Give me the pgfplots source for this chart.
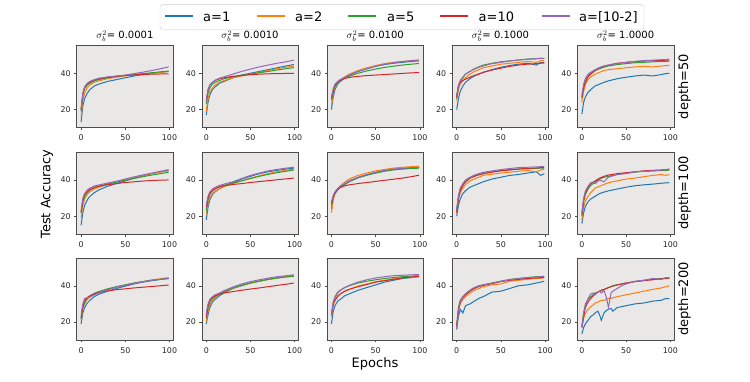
\documentclass[border=0pt]{standalone}
\usepackage{fontspec}
\setmainfont{DejaVu Sans}
\usepackage{pgfplots}
\usepackage{pgfplotstable}
\pgfplotsset{compat=1.18}

\definecolor{c1}{HTML}{1F77B4}
\definecolor{c2}{HTML}{FF7F0E}
\definecolor{c3}{HTML}{2CA02C}
\definecolor{c4}{HTML}{D62728}
\definecolor{c5}{HTML}{9467BD}
\definecolor{bgc}{RGB}{234,231,231}

% columns: epoch, a=1, a=2, a=5, a=10, a=[10-2]
\pgfplotstableread{
x a1 a2 a5 a10 a102
0 13 16 19 20 20
2 22 25 28 29 29
4 26 29 31.5 32 32.5
7 29 32 33.5 34 34.5
10 31 33.5 34.5 35 35.5
15 33 35 35.8 36.3 36.5
20 34 35.8 36.5 37 37.2
30 35.5 37 37.5 37.8 38
40 36.5 37.8 38.2 38.3 38.5
50 37.5 38.5 38.8 38.8 39
60 38.5 39 39.3 39.1 39.8
70 39.3 39.5 39.8 39.3 40.6
80 40 40 40.3 39.5 41.5
90 40.5 40.5 40.8 39.6 42.5
99 41 41 41.2 39.7 43.5
}\tA
\pgfplotstableread{
x a1 a2 a5 a10 a102
0 17 19 23 25 25
2 24 26 29 31 31
4 28 29.5 32 33.5 33.5
7 31 32 34 35 35
10 32.5 33.5 35 36 36.2
15 34.5 35 36 37 37.3
20 35.5 36 37 37.5 38
30 37.5 37.5 38 38.3 39.5
40 39 38.5 38.8 38.8 41
50 40 39.5 39.5 39.2 42.3
60 41 40.5 40.3 39.5 43.5
70 42 41.5 41 39.7 44.5
80 43 42.5 41.8 39.8 45.5
90 44 43.3 42.5 39.9 46.3
99 44.8 44 43.1 40 47.2
}\tB
\pgfplotstableread{
x a1 a2 a5 a10 a102
0 20 22 25 26 27
2 27 29 30 31 31.5
4 31 32 33 33.5 34
7 34 35 35 35.2 35.5
10 35.5 36.5 36 36.2 36.5
15 37.3 38 37.2 37.2 37.8
20 38.8 39.5 38.3 37.7 39
30 41 41.5 40 38.3 41
40 42.5 43 41.3 38.7 42.5
50 43.8 44.3 42.3 39 43.8
60 44.8 45.3 43.2 39.3 45
70 45.5 46 43.9 39.6 45.8
80 46 46.5 44.5 39.9 46.4
90 46.5 47 45 40.2 46.9
99 46.8 47.2 45.4 40.4 47.3
}\tC
\pgfplotstableread{
x a1 a2 a5 a10 a102
0 20 25 26 27 28
2 26 31 33 33 33.5
4 30 34 35.5 35 36
7 33 36 37.5 36 38
10 35 37.5 39.5 36.8 39.5
15 37 39.5 41 37.8 41
20 38.5 41 42.5 38.8 42.3
25 39.5 42 43.5 39.6 43.3
30 40.5 43 44.5 40.5 44
40 42 44 45.5 41.8 45.3
50 43.3 45 46.3 42.8 46
60 44.3 45.5 46.8 43.8 46.8
70 45 46 47.3 44.5 47.3
80 45.5 46.5 47.8 45 47.7
90 44.5 46 48 45.3 48
95 46 47 48.2 45.5 48.3
99 45.5 47 48 46 48.2
}\tD
\pgfplotstableread{
x a1 a2 a5 a10 a102
0 17.5 24 26 27 28
2 24 30 33 32 34
4 27 34 36.5 35 37
7 29.5 36.5 38.5 38 39.5
10 31 38 40 39.5 40.5
15 33 39.5 41.5 41.5 42
20 34 40.5 42.5 43 43.2
25 35 41.5 43.3 44 44
30 35.8 42 44 44.5 44.5
40 37 42.5 44.8 45.5 45.3
50 37.8 43 45.3 46 46
60 38.5 43.5 45.8 46.5 46.5
70 39 43.8 46 46.7 47
80 38.5 43.5 46.3 47 47.2
90 39.3 44 46.5 47 47.5
95 39.8 44.2 46.5 47.2 47.5
99 40 44.3 46.7 47.3 47.8
}\tE
\pgfplotstableread{
x a1 a2 a5 a10 a102
0 15 19 22 22 23
2 22 26 28 29 30
4 26 29.5 31 32 32.5
7 29 32 33 33.8 34.5
10 31 33.5 34.5 34.8 35.5
15 33 35 35.8 35.8 36.7
20 34.5 36 36.6 36.5 37.2
30 36.5 37.5 37.8 37.4 38.3
40 38 39 38.8 38 39.3
50 39.5 40.3 39.8 38.6 40.5
60 41 41.5 40.8 39 41.7
70 42.3 42.5 41.8 39.4 42.8
80 43.5 43.5 42.7 39.7 43.8
90 44.5 44.3 43.5 39.9 44.8
99 45.2 45 44.2 40 45.7
}\tF
\pgfplotstableread{
x a1 a2 a5 a10 a102
0 18 21 23 25 26
2 25 27 29 30 31
4 29 30 32 32.5 33.5
7 32 32.5 34 34.2 35
10 33.5 33.8 35 35.2 36
15 35.2 35.2 36.3 36.2 37
20 36.5 36.3 37 36.8 37.7
30 38.5 38 38.3 37.5 39
40 40.5 39.5 39.5 38 40.8
50 42 41 40.8 38.6 42.5
60 43.5 42.3 42 39.1 43.8
70 44.5 43.5 43.1 39.6 45
80 45.3 44.5 44 40.1 45.8
90 46 45.3 44.8 40.6 46.5
99 46.5 46 45.5 41 47
}\tG
\pgfplotstableread{
x a1 a2 a5 a10 a102
0 24 22 26 27 28
2 30 29 30.5 31 31.5
4 32.5 32.5 33 33 33.5
7 34.5 35 35 34.8 35.3
10 36 36.8 36.3 35.8 36.5
15 37.5 38.8 37.8 36.8 38
20 39 40.5 39.2 37.3 39.5
30 41.2 42.5 41.2 38 41.5
40 42.7 43.8 42.6 38.6 43
50 44 45 43.8 39.2 44.3
60 45 45.8 44.8 39.8 45.3
70 45.8 46.5 45.5 40.4 46
80 46.2 47 46 41 46.5
90 46.5 47.3 46.3 41.8 46.8
99 46.8 47.5 46.5 42.6 47
}\tH
\pgfplotstableread{
x a1 a2 a5 a10 a102
0 20 22 23 22 24
2 26 29 31 30 31.5
4 29.5 33 35 34 35.5
7 32.5 35.5 37.5 37 38
10 34 37.5 39 39 40
15 36 39.5 41 41 41.5
20 37 40.5 42 42 42.7
25 38 41.5 43 42.8 43.5
30 39 42.5 43.5 43.5 44.2
40 40.5 43.2 44.5 44.3 45
50 41.5 43.8 45.2 45 45.7
60 42.5 44.3 45.7 45.5 46.3
70 43 44.8 46 46 46.8
80 43.8 45.2 46.3 46.3 47
90 44.5 44.5 46.4 46.6 47.2
95 42.5 45.5 46.5 46.8 47.3
99 43.5 45.8 46.6 46.8 47.3
}\tI
\pgfplotstableread{
x a1 a2 a5 a10 a102
0 16 18 20 21 22
2 22 25 28 29 30
4 25.5 28.5 32 33 34
7 28 31 35 36 36.5
10 29.5 33 37 38 38.5
15 31 35.5 39 39.5 38
20 32.5 36.5 40.5 41 40
25 33.3 37.5 41.5 42 39
30 34 38.5 42 42.7 41.5
40 35 39.5 43 43.5 43
50 36 40.5 43.8 44 43.5
60 36.8 41 44.3 44.5 44.5
70 37.3 41.8 44.8 45 44.8
80 37.7 42.5 45 45.3 45
90 38.2 43 45.2 45.5 45.5
95 38.4 42.5 45.3 45.7 45.8
99 38.5 43 45.4 45.8 46
}\tJ
\pgfplotstableread{
x a1 a2 a5 a10 a102
0 19 21 22 22 24
2 25 27 28 29 30
4 28 30 31 32 33
7 30.5 32.5 33 33.5 33.3
10 32 33.8 34.3 34.5 33.8
15 34 35.3 35.8 35.6 35
20 35.3 36.3 36.8 36.3 36
30 37 38 38.3 37.2 37.8
40 38.5 39.3 39.5 37.8 39.2
50 39.8 40.5 40.5 38.3 40.3
60 41 41.5 41.5 38.8 41.3
70 42 42.3 42.3 39.2 42.2
80 42.8 43.2 43 39.6 43
90 43.5 43.9 43.6 40 43.6
99 44 44.5 44.1 40.4 44
}\tK
\pgfplotstableread{
x a1 a2 a5 a10 a102
0 19 20 22 23 25
2 24 26 28 29 30
4 28 29.5 31 32 32.5
7 31 32 33 33.5 34
10 32.5 33.5 34 34.5 35
15 34.5 35.2 35.5 35.5 36
20 36 36.5 36.7 36 37.3
30 38.5 38.5 38.8 36.8 39.3
40 40 40.2 40.3 37.5 41
50 41.5 41.5 41.5 38.2 42.3
60 42.5 42.5 42.6 38.8 43.3
70 43.5 43.5 43.5 39.5 44.2
80 44.3 44.3 44.2 40.2 45
90 45 45 44.8 40.8 45.5
99 45.5 45.5 45.2 41.5 46
}\tL
\pgfplotstableread{
x a1 a2 a5 a10 a102
0 19 23 24 24 24
2 26 29 31 30 31
4 29 32 34 32 33.5
7 31.5 34.5 36.5 34 36
10 32.5 35.5 37.5 35.5 37.5
15 34.5 37 39 37 39
20 35.5 38 40 38 40.2
30 37.5 39.8 41.5 39.5 42
40 39 41 42.5 40.7 43.3
50 40.5 42.2 43.3 42 44.3
60 42 43 44 42.8 45
70 43 43.8 44.5 43.5 45.5
80 44 44.5 45 44.3 45.8
90 44.5 44.5 45.3 44.8 46
99 45 45 45.5 45.3 46.2
}\tM
\pgfplotstableread{
x a1 a2 a5 a10 a102
0 16 17 18 18 16
2 23 26 28 27 26
4 27 30 32 31 31
7 25 32.5 34 33.5 34
10 29 34 35.5 35 35.5
15 30 36 37.5 37 37.5
20 31.5 37.5 39 38.5 39
25 33 38.5 40 39.5 39.8
30 34 39.5 40.5 40.2 40.5
40 36.5 40.5 41.5 41.2 41.5
50 37 41 42.5 42.3 42.5
60 38.5 42.5 43.5 43 43.3
70 40 43 44 43.5 44
80 40.5 43.5 44.5 44 44.5
90 41.5 44 45 44.3 44.8
95 42 44 45 44.5 45
99 42.5 44.5 45.3 44.5 45
}\tN
\pgfplotstableread{
x a1 a2 a5 a10 a102
0 13.5 17 18 17 17
2 17 22 25 23 25
4 19 25 30 28 29
7 21 27 32.5 31 33
10 23 28.5 34 33 35.5
13 24 29.5 35 34.5 36
15 25 30.5 36 35.5 35
18 26 31 36.5 36.5 36.5
20 24 31.5 37 37 37
22 21 32 37.5 37.5 36
25 25 32 38 38 37.5
28 26.5 32.5 38.5 38.5 33
30 27 33 39 39 28
33 27.5 33 39.5 39.5 36
35 26 33.3 39.8 40 37
40 28 34 40.5 40.5 38.5
45 28.5 34.5 41 41 40
50 29 35 41.5 41.5 41
60 30 36 42.3 42.3 42.5
70 30.5 37 43 42.8 43
80 31.5 38 43.5 43.3 44
90 32 38.8 44 43.8 43.5
95 33 39.5 44 44 44.5
99 32.8 40 44.3 44.3 44.5
}\tO

\pgfplotsset{every axis title shift=0pt,
 pan/.style={scale only axis, width=96.3pt, height=82pt, anchor=south west,
  xmin=-4.95, xmax=103.95, ymin=10.1, ymax=55.3, xtick={0,50,100}, ytick={20,40},
  axis background/.style={fill=bgc}, axis line style={black!70, line width=0.6pt},
  tick style={black!70, line width=0.5pt}, tick align=outside, tick pos=left, major tick length=2.5pt,
  ticklabel style={font=\fontsize{7.9}{9}\selectfont, text=black!85},
  xticklabel style={yshift=-1.5pt},
  /pgf/number format/assume math mode=true,
  title style={at={(0.5,1)}, anchor=base, yshift=6.5pt, font=\fontsize{10}{12}\selectfont},
  every axis plot/.append style={line width=1pt, mark=none}}}

\newcommand{\panel}[4]{%
 \begin{axis}[pan, at={(#1pt,#2pt)}, title={#4}]
  \addplot[c1] table[x=x,y=a1]{#3};
  \addplot[c2] table[x=x,y=a2]{#3};
  \addplot[c3] table[x=x,y=a5]{#3};
  \addplot[c4] table[x=x,y=a10]{#3};
  \addplot[c5] table[x=x,y=a102]{#3};
 \end{axis}}

\begin{document}
\begin{tikzpicture}
 \useasboundingbox (0,0) rectangle (750pt,382pt);
 \panel{76.7}{254.5}{\tA}{$\sigma_b^2$= 0.0001}
 \panel{201.9}{254.5}{\tB}{$\sigma_b^2$= 0.0010}
 \panel{327.1}{254.5}{\tC}{$\sigma_b^2$= 0.0100}
 \panel{452.3}{254.5}{\tD}{$\sigma_b^2$= 0.1000}
 \panel{577.5}{254.5}{\tE}{$\sigma_b^2$= 1.0000}
 \panel{76.7}{147.8}{\tF}{}
 \panel{201.9}{147.8}{\tG}{}
 \panel{327.1}{147.8}{\tH}{}
 \panel{452.3}{147.8}{\tI}{}
 \panel{577.5}{147.8}{\tJ}{}
 \panel{76.7}{42}{\tK}{}
 \panel{201.9}{42}{\tL}{}
 \panel{327.1}{42}{\tM}{}
 \panel{452.3}{42}{\tN}{}
 \panel{577.5}{42}{\tO}{}
 % shared labels
 \begin{scope}[font=\fontsize{13}{15}\selectfont]
  \node[rotate=90] at (47pt,188pt) {Test Accuracy};
  \node at (375pt,18.5pt) {Epochs};
  \node[rotate=90] at (684.5pt,295.5pt) {depth=50};
  \node[rotate=90] at (684.5pt,188.8pt) {depth=100};
  \node[rotate=90] at (684.5pt,83pt) {depth=200};
  % legend
  \draw[black!20, fill=white, rounded corners=2.5pt] (160pt,352.7pt) rectangle (644pt,377.3pt);
  \draw[c1, line width=1.1pt] (165pt,366pt) -- (193pt,366pt);
  \draw[c2, line width=1.1pt] (256.5pt,366pt) -- (284.5pt,366pt);
  \draw[c3, line width=1.1pt] (348.3pt,366pt) -- (376.3pt,366pt);
  \draw[c4, line width=1.1pt] (440pt,366pt) -- (468pt,366pt);
  \draw[c5, line width=1.1pt] (541.5pt,366pt) -- (569.5pt,366pt);
  \node[anchor=base west, inner sep=0] at (203pt,360.3pt) {a=1};
  \node[anchor=base west, inner sep=0] at (295pt,360.3pt) {a=2};
  \node[anchor=base west, inner sep=0] at (387pt,360.3pt) {a=5};
  \node[anchor=base west, inner sep=0] at (478.5pt,360.3pt) {a=10};
  \node[anchor=base west, inner sep=0] at (579pt,360.3pt) {a=[10-2]};
 \end{scope}
\end{tikzpicture}
\end{document}
